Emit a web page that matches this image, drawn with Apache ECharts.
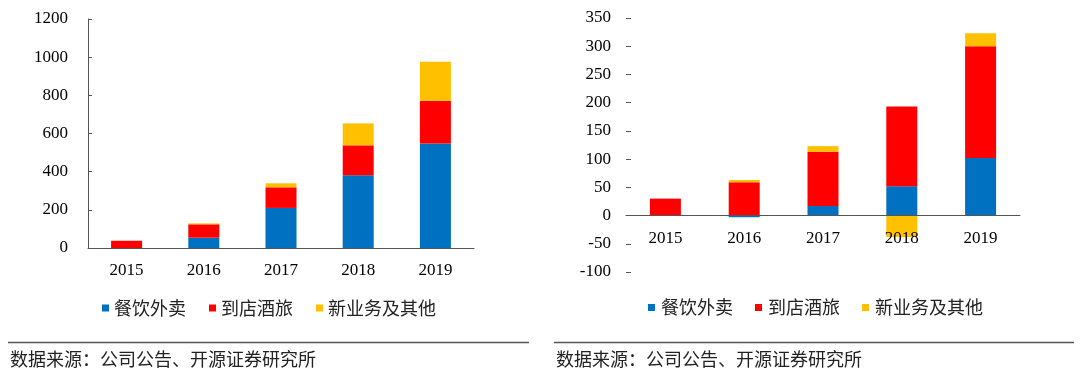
<!DOCTYPE html>
<html>
<head>
<meta charset="utf-8">
<script src="https://cdn.jsdelivr.net/npm/echarts@6/dist/echarts.min.js"></script>
<style>
html,body{margin:0;padding:0;background:#fff;}
#c{width:1080px;height:378px;}
</style>
</head>
<body>
<div id="c"></div>
<script>
var categories = ['2015', '2016', '2017', '2018', '2019'];
var seriesNames = ['餐饮外卖', '到店酒旅', '新业务及其他'];
// Left chart: revenue
var leftFood = [0, 54, 210, 381, 548];
var leftHotel = [38, 70, 108, 157, 224];
var leftNew = [0, 5, 21, 115, 204];
// Right chart: operating profit
var rightFood = [0, -3, 17, 52, 102];
var rightHotel = [30, 59, 96, 141, 198];
var rightNew = [0, 4, 10, -38, 23];
var leftTicks = {min: 0, max: 1200, interval: 200};
var rightTicks = {min: -100, max: 350, interval: 50};
var sourceText = '数据来源：公司公告、开源证券研究所';

var colors = ['#0070C0', '#FF0000', '#FFC000'];
var serif = '"Liberation Serif", "Times New Roman", serif';
var cjk = '"Noto Sans CJK SC", sans-serif';
var axisColor = '#555555';

var rightGrid = {left: 626, right: 60, top: 18, bottom: 106};
var rightH = 378 - rightGrid.top - rightGrid.bottom;
var zeroOffset = -rightH * (0 - rightTicks.min) / (rightTicks.max - rightTicks.min);

function xAxis(gi, margin, offset) {
  return {
    type: 'category', gridIndex: gi, data: categories,
    position: 'bottom', offset: offset, z: 5,
    axisLine: {onZero: false, lineStyle: {color: axisColor, width: 1}},
    axisTick: {inside: true, length: 5, lineStyle: {color: axisColor}},
    axisLabel: {fontFamily: serif, fontSize: 17, color: '#000', margin: margin}
  };
}
function bars(name, data, xi, color) {
  return {
    type: 'bar', name: name, data: data, stack: 's' + xi,
    xAxisIndex: xi, yAxisIndex: xi, barWidth: 31,
    itemStyle: {color: color}
  };
}
function plain(v) { return String(v); }

var chart = echarts.init(document.getElementById('c'));
chart.setOption({
  animation: false,
  color: colors,
  grid: [
    {left: 88, right: 606, top: 19, bottom: 130},
    rightGrid
  ],
  xAxis: [xAxis(0, 14, 0), xAxis(1, 14, zeroOffset)],
  yAxis: [
    {type: 'value', gridIndex: 0, min: leftTicks.min, max: leftTicks.max, interval: leftTicks.interval,
     axisLine: {show: true, lineStyle: {color: axisColor}},
     axisTick: {show: true, inside: true, length: 4, lineStyle: {color: axisColor}},
     splitLine: {show: false},
     axisLabel: {fontFamily: serif, fontSize: 17, color: '#000', margin: 20, formatter: plain}},
    {type: 'value', gridIndex: 1, min: rightTicks.min, max: rightTicks.max, interval: rightTicks.interval,
     axisLine: {show: false},
     axisTick: {show: true, inside: true, length: 5, lineStyle: {color: axisColor}},
     splitLine: {show: false},
     axisLabel: {fontFamily: serif, fontSize: 17, color: '#000', margin: 15, formatter: plain}}
  ],
  legend: [
    {left: 102, top: 299, padding: 0, itemWidth: 7, itemHeight: 7, itemGap: 23, icon: 'rect',
     textStyle: {fontFamily: cjk, fontSize: 18, color: '#222'},
     data: seriesNames}
  ],
  series: [
    bars(seriesNames[0], leftFood, 0, colors[0]),
    bars(seriesNames[1], leftHotel, 0, colors[1]),
    bars(seriesNames[2], leftNew, 0, colors[2]),
    bars(seriesNames[0], rightFood, 1, colors[0]),
    bars(seriesNames[1], rightHotel, 1, colors[1]),
    bars(seriesNames[2], rightNew, 1, colors[2])
  ],
  graphic: [
    {type: 'group', left: 648, top: 298, children: [
      {type: 'rect', shape: {x: 0, y: 6, width: 7, height: 7}, style: {fill: colors[0]}},
      {type: 'text', x: 13, y: 0, style: {text: seriesNames[0], font: '18px ' + cjk, fill: '#222'}},
      {type: 'rect', shape: {x: 107, y: 6, width: 7, height: 7}, style: {fill: colors[1]}},
      {type: 'text', x: 120, y: 0, style: {text: seriesNames[1], font: '18px ' + cjk, fill: '#222'}},
      {type: 'rect', shape: {x: 214, y: 6, width: 7, height: 7}, style: {fill: colors[2]}},
      {type: 'text', x: 227, y: 0, style: {text: seriesNames[2], font: '18px ' + cjk, fill: '#222'}}
    ]},
    {type: 'line', shape: {x1: 8, y1: 342.5, x2: 529, y2: 342.5}, style: {stroke: '#555', lineWidth: 1.5}},
    {type: 'line', shape: {x1: 554, y1: 342.5, x2: 1074, y2: 342.5}, style: {stroke: '#555', lineWidth: 1.5}},
    {type: 'text', x: 10, y: 350, style: {text: sourceText, font: '18px ' + cjk, fill: '#222'}},
    {type: 'text', x: 556, y: 350, style: {text: sourceText, font: '18px ' + cjk, fill: '#222'}}
  ]
});
</script>
</body>
</html>
